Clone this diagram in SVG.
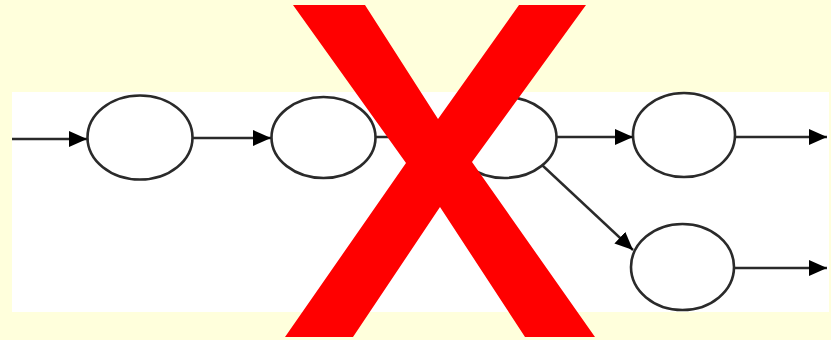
<svg xmlns="http://www.w3.org/2000/svg" width="831" height="340" viewBox="0 0 831 340">
<style>
.node{fill:#ffffff;stroke:#2a2a2a;stroke-width:2.6}
.edge{stroke:#2a2a2a;stroke-width:2.4;fill:none}
</style>
<defs>
<marker id="arr" viewBox="0 0 18 16" refX="18" refY="8" markerWidth="18" markerHeight="16" markerUnits="userSpaceOnUse" orient="auto">
<path d="M0,0 L18,8 L0,16 Z" fill="#000000"/>
</marker>
</defs>
<rect x="0" y="0" width="831" height="340" fill="#ffffdc"/>
<rect x="12" y="92" width="817" height="220" fill="#ffffff"/>
<g id="n1"><ellipse class="node" cx="140" cy="137.5" rx="52.5" ry="42"/></g>
<g id="n2"><ellipse class="node" cx="323.5" cy="137.5" rx="52" ry="40.5"/></g>
<g id="n3"><ellipse class="node" cx="504.5" cy="137.5" rx="52" ry="40.5"/></g>
<g id="n4"><ellipse class="node" cx="684" cy="135" rx="51" ry="42"/></g>
<g id="n5"><ellipse class="node" cx="682.5" cy="267" rx="51.5" ry="43"/></g>
<g id="edges">
<line class="edge" x1="12" y1="139" x2="87" y2="139" marker-end="url(#arr)"/>
<line class="edge" x1="193" y1="138" x2="271" y2="138" marker-end="url(#arr)"/>
<line class="edge" x1="376" y1="137" x2="452" y2="137" marker-end="url(#arr)"/>
<line class="edge" x1="557" y1="137" x2="633" y2="137" marker-end="url(#arr)"/>
<line class="edge" x1="735" y1="137" x2="827" y2="137" marker-end="url(#arr)"/>
<line class="edge" x1="542" y1="165" x2="633" y2="250" marker-end="url(#arr)"/>
<line class="edge" x1="734" y1="268" x2="827" y2="268" marker-end="url(#arr)"/>
</g>
<polygon fill="#ff0000" points="293,5 365,5 438,119 519,5 586,5 472,162 595,337 525,337 440,207 353,337 285,337 406,163"/>
</svg>
